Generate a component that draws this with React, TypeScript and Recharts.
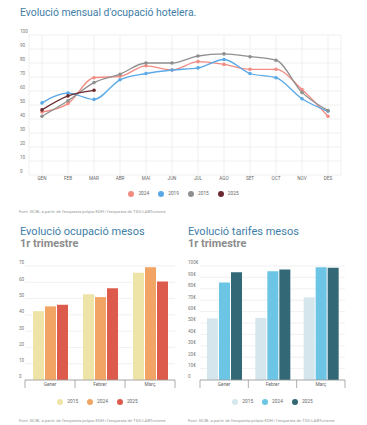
import React from "react";
import { LineChart, Line, XAxis, YAxis, CartesianGrid, BarChart, Bar } from "recharts";

// monthly occupancy (%)
const months = ["GEN", "FEB", "MAR", "ABR", "MAI", "JUN", "JUL", "AGO", "SET", "OCT", "NOV", "DES"];
const occ2024 = [45, 51, 69.5, 70.5, 78, 75, 81, 79, 75.5, 75.5, 61, 42];
const occ2019 = [51.5, 58.5, 54, 68, 72.5, 75, 76.5, 82.5, 72.5, 69.5, 54.5, 45.5];
const occ2015 = [42, 53, 66, 72, 80, 80, 85, 86.5, 84.5, 82, 59, 46];
const occ2025 = [46.5, 56.5, 60.5];
const occTicks = [0, 10, 20, 30, 40, 50, 60, 70, 80, 90, 100];

// first quarter
const quarter = ["Gener", "Febrer", "Març"];
const q2015 = [42.3, 52.6, 65.8];
const q2024 = [45.2, 50.9, 69.3];
const q2025 = [46.2, 56.4, 60.5];
const qTicks = [0, 10, 20, 30, 40, 50, 60, 70];

const rate2015 = [54, 54.5, 72.5];
const rate2024 = [85.5, 95.5, 99];
const rate2025 = [94.5, 97, 98.5];
const rateTicks = [0, 10, 20, 30, 40, 50, 60, 70, 80, 90, 100];

const FONT = "Roboto, 'Noto Sans', sans-serif";
const TITLE = "#3f7ea6";
const SUB = "#8c8c8c";
const GRID = "#ececec";

const lineSeries = [
  { key: "y2024", name: "2024", values: occ2024, color: "#f28b82" },
  { key: "y2019", name: "2019", values: occ2019, color: "#5aa9e6" },
  { key: "y2015", name: "2015", values: occ2015, color: "#8f8f8f" },
  { key: "y2025", name: "2025", values: occ2025, color: "#6b2a30" },
];

const lineData = months.map((m, i) => {
  const row: any = { month: m };
  lineSeries.forEach((s) => {
    row[s.key] = i < s.values.length ? s.values[i] : null;
  });
  return row;
});

const occSeries = [
  { key: "y2015", name: "2015", values: q2015, color: "#efe4a8" },
  { key: "y2024", name: "2024", values: q2024, color: "#f1a463" },
  { key: "y2025", name: "2025", values: q2025, color: "#dc5b4d" },
];
const rateSeries = [
  { key: "y2015", name: "2015", values: rate2015, color: "#d5e6ed" },
  { key: "y2024", name: "2024", values: rate2024, color: "#6cc5e5" },
  { key: "y2025", name: "2025", values: rate2025, color: "#336876" },
];

const toRows = (series: typeof occSeries) =>
  quarter.map((q, i) => {
    const row: any = { month: q };
    series.forEach((s) => (row[s.key] = s.values[i]));
    return row;
  });

const YTick = (props: any) => {
  const { y, payload, labelX, fmt } = props;
  return (
    <text x={labelX} y={y - 1.6} fontSize={4.6} fill="#777" fontFamily={FONT} textAnchor="start">
      {fmt ? fmt(payload.value) : payload.value}
    </text>
  );
};

const MonthTick = (props: any) => {
  const { x, y, payload } = props;
  return (
    <text x={x} y={y + 4.8} fontSize={4.6} fill="#666" fontFamily={FONT} textAnchor="middle">
      {payload.value}
    </text>
  );
};

const BandTick = (props: any) => {
  const { x, y, payload, index, plotWidth } = props;
  const bw = plotWidth / quarter.length;
  return (
    <g>
      <line x1={x - bw / 2} x2={x - bw / 2} y1={y} y2={y + 8} stroke="#9a9a9a" strokeWidth={0.8} />
      {index === quarter.length - 1 && (
        <line x1={x + bw / 2} x2={x + bw / 2} y1={y} y2={y + 8} stroke="#9a9a9a" strokeWidth={0.8} />
      )}
      <text x={x} y={y + 6} fontSize={4.8} fill="#666" fontFamily={FONT} textAnchor="middle">
        {payload.value}
      </text>
    </g>
  );
};

function LegendRow({ items, top, left, width, gap }: any) {
  return (
    <div
      style={{
        position: "absolute",
        top,
        left,
        width,
        display: "flex",
        justifyContent: "center",
        gap,
        fontFamily: FONT,
        fontSize: 4.8,
        color: "#666",
      }}
    >
      {items.map((s: any) => (
        <div key={s.name} style={{ display: "flex", alignItems: "center" }}>
          <span
            style={{
              width: 6,
              height: 6,
              borderRadius: 3,
              background: s.color,
              display: "inline-block",
              marginRight: 4,
            }}
          />
          <span>{s.name}</span>
        </div>
      ))}
    </div>
  );
}

const Source = ({ top, left }: any) => (
  <div style={{ position: "absolute", top, left, fontFamily: FONT, fontSize: 4.3, color: "#999", whiteSpace: "nowrap" }}>
    Font: GCBL a partir de l'enquesta pròpia EDH i l'enquesta de TDS-LABTurisme
  </div>
);

function QuarterChart({ left, series, ticks, domainMax, yAxisWidth, marginRight, width, labelX, fmt, gapPx }: any) {
  const plotWidth = width - yAxisWidth - marginRight;
  return (
    <div style={{ position: "absolute", left, top: 250 }}>
      <BarChart
        width={width}
        height={145}
        data={toRows(series)}
        margin={{ top: 16, right: marginRight, left: 0, bottom: 0 }}
        barCategoryGap={gapPx}
        barGap={1}
      >
        <CartesianGrid vertical={false} stroke={GRID} strokeWidth={0.8} />
        <YAxis
          width={yAxisWidth}
          domain={[0, domainMax]}
          ticks={ticks}
          interval={0}
          axisLine={false}
          tickLine={false}
          tick={(p: any) => <YTick {...p} labelX={labelX - left} fmt={fmt} />}
        />
        <XAxis
          dataKey="month"
          height={15}
          tickSize={0}
          tickMargin={0}
          interval={0}
          axisLine={{ stroke: "#9a9a9a", strokeWidth: 0.8 }}
          tickLine={false}
          tick={(p: any) => <BandTick {...p} plotWidth={plotWidth} />}
        />
        {series.map((s: any) => (
          <Bar key={s.key} dataKey={s.key} name={s.name} fill={s.color} isAnimationActive={false} />
        ))}
      </BarChart>
    </div>
  );
}

export default function App() {
  return (
    <div style={{ position: "absolute", left: 0, top: 0, width: 367, height: 425, background: "#fff", overflow: "hidden" }}>
      <div style={{ position: "absolute", left: 20, top: 7, fontFamily: FONT, fontSize: 10.4, lineHeight: "12px", color: TITLE }}>
        Evolució mensual d'ocupació hotelera.
      </div>
      <div style={{ position: "absolute", left: 0, top: 0 }}>
        <LineChart width={367} height={185} data={lineData} margin={{ top: 35, right: 26, left: 0, bottom: 0 }}>
          <CartesianGrid stroke={GRID} strokeWidth={0.8} />
          <YAxis
            width={29}
            domain={[0, 100]}
            ticks={occTicks}
            interval={0}
            axisLine={false}
            tickLine={false}
            tick={(p: any) => <YTick {...p} labelX={20} />}
          />
          <XAxis
            dataKey="month"
            height={10}
            padding={{ left: 13, right: 13 }}
            tickSize={0}
            tickMargin={0}
            axisLine={false}
            tickLine={false}
            tick={MonthTick}
            interval={0}
          />
          {lineSeries.map((s) => (
            <Line
              key={s.key}
              type="monotone"
              dataKey={s.key}
              name={s.name}
              stroke={s.color}
              strokeWidth={1.3}
              dot={{ r: 1.8, fill: s.color, stroke: "none" }}
              connectNulls={false}
              isAnimationActive={false}
            />
          ))}
        </LineChart>
      </div>
      <LegendRow items={lineSeries} top={190.5} left={0} width={367} gap={9} />
      <Source top={209} left={19} />

      <div style={{ position: "absolute", left: 20, top: 226, fontFamily: FONT, fontSize: 11, lineHeight: "12px", color: TITLE }}>
        Evolució ocupació mesos
      </div>
      <div style={{ position: "absolute", left: 20, top: 238, fontFamily: FONT, fontSize: 11, lineHeight: "12px", color: SUB, fontWeight: 700 }}>
        1r trimestre
      </div>
      <div style={{ position: "absolute", left: 188, top: 226, fontFamily: FONT, fontSize: 11, lineHeight: "12px", color: TITLE }}>
        Evolució tarifes mesos
      </div>
      <div style={{ position: "absolute", left: 188, top: 238, fontFamily: FONT, fontSize: 11, lineHeight: "12px", color: SUB, fontWeight: 700 }}>
        1r trimestre
      </div>

      <QuarterChart
        left={0}
        width={185}
        series={occSeries}
        ticks={qTicks}
        domainMax={70}
        yAxisWidth={25}
        marginRight={10}
        labelX={19}
        gapPx={8}
      />
      <QuarterChart
        left={183}
        width={184}
        series={rateSeries}
        ticks={rateTicks}
        domainMax={100}
        yAxisWidth={17}
        marginRight={22}
        labelX={188}
        gapPx={7}
        fmt={(v: number) => (v === 0 ? "0" : `${v}€`)}
      />
      <LegendRow items={occSeries} top={398.5} left={20} width={155} gap={9} />
      <LegendRow items={rateSeries} top={398.5} left={200} width={145} gap={9} />
      <Source top={417.5} left={19} />
      <Source top={417.5} left={188} />
    </div>
  );
}
